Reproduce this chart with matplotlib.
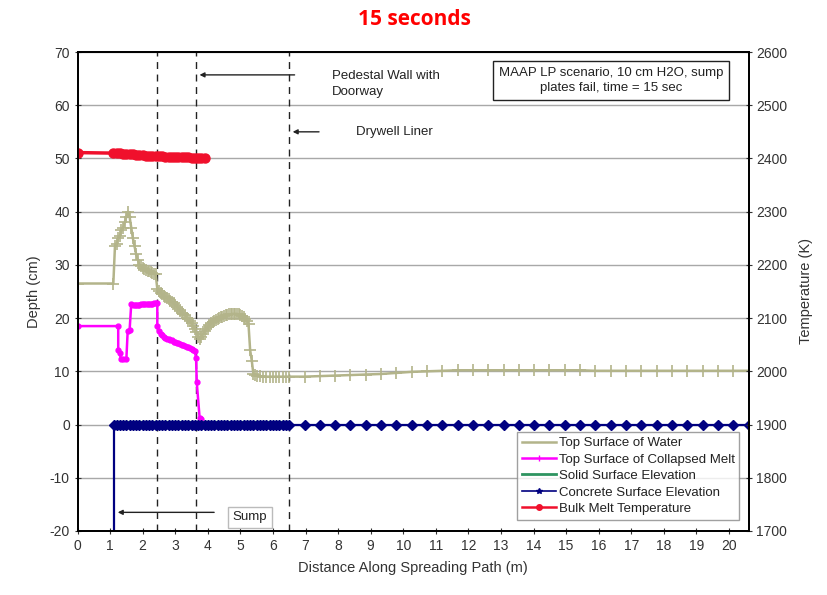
import matplotlib.pyplot as plt
from matplotlib.lines import Line2D

plt.rcParams['font.family'] = ['Liberation Sans', 'DejaVu Sans']
plt.rcParams['axes.unicode_minus'] = False

# spreading path positions (m) and water surface depth (cm)
water_x = [0.0, 1.1, 1.15, 1.2, 1.25, 1.3, 1.35, 1.4, 1.45, 1.5, 1.55, 1.6, 1.65,
           1.7, 1.75, 1.8, 1.85, 1.9, 1.95, 2.0, 2.05, 2.1, 2.15, 2.2, 2.25, 2.3,
           2.35, 2.4, 2.45, 2.5, 2.55, 2.6, 2.65, 2.7, 2.75, 2.8, 2.85, 2.9, 2.95,
           3.0, 3.05, 3.1, 3.15, 3.2, 3.25, 3.3, 3.35, 3.4, 3.45, 3.5, 3.55, 3.6,
           3.65, 3.7, 3.75, 3.8, 3.85, 3.9, 3.95, 4.0, 4.05, 4.1, 4.15, 4.2, 4.25,
           4.3, 4.35, 4.4, 4.45, 4.5, 4.55, 4.6, 4.65, 4.7, 4.75, 4.8, 4.85, 4.9,
           4.95, 5.0, 5.05, 5.1, 5.15, 5.2, 5.25, 5.3, 5.35, 5.4, 5.45, 5.5, 5.6,
           5.7, 5.8, 5.9, 6.0, 6.1, 6.2, 6.3, 6.4, 6.5, 6.97, 7.44, 7.91, 8.38,
           8.85, 9.32, 9.79, 10.26, 10.73, 11.2, 11.67, 12.14, 12.61, 13.08, 13.55,
           14.02, 14.49, 14.96, 15.43, 15.9, 16.37, 16.84, 17.31, 17.78, 18.25,
           18.72, 19.19, 19.66, 20.13, 20.6]
water_depth = [26.5, 26.5, 33.5, 34.0, 35.0, 35.5, 36.5, 37.0, 38.0, 39.0, 40.0, 39.0, 37.0,
               35.0, 33.5, 32.0, 31.0, 30.0, 29.8, 29.5, 29.3, 29.0, 28.9, 28.8, 28.6, 28.5,
               28.3, 28.2, 25.5, 25.0, 24.8, 24.5, 24.2, 24.0, 23.8, 23.5, 23.2, 23.0, 22.8,
               22.5, 22.1, 21.8, 21.4, 21.0, 20.8, 20.5, 20.1, 19.8, 19.4, 19.0, 18.5, 18.0,
               17.3, 16.5, 16.0, 16.5, 17.0, 17.5, 17.9, 18.3, 18.7, 19.0, 19.3, 19.5, 19.7,
               19.8, 20.0, 20.2, 20.3, 20.4, 20.5, 20.6, 20.7, 20.7, 20.8, 20.8, 20.8, 20.8,
               20.7, 20.6, 20.4, 20.2, 19.9, 19.5, 18.8, 14.0, 12.0, 9.5, 9.3, 9.2, 9.1,
               9.0, 9.0, 9.0, 9.0, 9.0, 9.0, 9.0, 9.0, 9.0, 9.0, 9.1, 9.2, 9.3,
               9.4, 9.5, 9.7, 9.9, 10.0, 10.1, 10.2, 10.2, 10.2, 10.2, 10.2,
               10.2, 10.2, 10.2, 10.2, 10.1, 10.1, 10.1, 10.1, 10.1, 10.1,
               10.1, 10.1, 10.1, 10.1, 10.1]

# collapsed melt top surface (cm)
melt_x = [0.0, 1.25, 1.25, 1.3, 1.33, 1.4, 1.5, 1.54, 1.6, 1.65, 1.7, 1.75, 1.8,
          1.85, 1.9, 1.95, 2.0, 2.05, 2.1, 2.15, 2.2, 2.25, 2.3, 2.35, 2.4, 2.45,
          2.45, 2.5, 2.55, 2.6, 2.65, 2.7, 2.75, 2.8, 2.85, 2.9, 2.95, 3.0, 3.05,
          3.1, 3.15, 3.2, 3.25, 3.3, 3.35, 3.4, 3.45, 3.5, 3.55, 3.6, 3.64, 3.66,
          3.75, 3.8]
melt_depth = [18.5, 18.5, 14.0, 13.5, 12.3, 12.3, 12.3, 17.5, 17.8, 22.7, 22.5, 22.4, 22.5,
              22.5, 22.5, 22.6, 22.6, 22.6, 22.6, 22.7, 22.7, 22.7, 22.7, 22.8, 22.8, 22.8,
              18.5, 17.5, 17.1, 16.8, 16.5, 16.3, 16.1, 16.0, 15.9, 15.8, 15.6, 15.5, 15.4,
              15.3, 15.1, 15.0, 14.9, 14.8, 14.6, 14.5, 14.3, 14.2, 14.0, 13.8, 12.5, 8.0,
              1.2, 1.0]

# concrete / solid surface elevation (cm)
concrete_x = [1.12, 1.12, 1.2, 1.3, 1.4, 1.5, 1.6, 1.7, 1.8, 1.9, 2.0, 2.1, 2.2, 2.3,
              2.4, 2.5, 2.6, 2.7, 2.8, 2.9, 3.0, 3.1, 3.2, 3.3, 3.4, 3.5, 3.6, 3.7,
              3.8, 3.9, 4.0, 4.1, 4.2, 4.3, 4.4, 4.5, 4.6, 4.7, 4.8, 4.9, 5.0, 5.1,
              5.2, 5.3, 5.4, 5.5, 5.6, 5.7, 5.8, 5.9, 6.0, 6.1, 6.2, 6.3, 6.4, 6.5,
              6.97, 7.44, 7.91, 8.38, 8.85, 9.32, 9.79, 10.26, 10.73, 11.2, 11.67,
              12.14, 12.61, 13.08, 13.55, 14.02, 14.49, 14.96, 15.43, 15.9, 16.37,
              16.84, 17.31, 17.78, 18.25, 18.72, 19.19, 19.66, 20.13, 20.6]
concrete_depth = [-20.0] + [0.0] * (len(concrete_x) - 1)
solid_x = [1.12, 6.5]
solid_depth = [0.0, 0.0]

# bulk melt temperature (K)
temp_x = [0.0, 1.1, 1.2, 1.3, 1.4, 1.5, 1.6, 1.7, 1.8, 1.9, 2.0, 2.1, 2.2, 2.3, 2.4,
          2.5, 2.6, 2.7, 2.8, 2.9, 3.0, 3.1, 3.2, 3.3, 3.4, 3.5, 3.6, 3.7, 3.8, 3.9]
temp_K = [2411, 2410, 2410, 2409.5, 2409, 2408.5, 2408, 2407.5, 2407, 2406.5, 2406,
          2405.5, 2405, 2404.8, 2404.5, 2404, 2403.8, 2403.5, 2403.2, 2403, 2402.8,
          2402.5, 2402.3, 2402, 2401.8, 2401.6, 2401.4, 2401.2, 2401, 2401]

walls = [2.45, 3.64, 6.5]

c_water = '#b3b48a'
c_melt = '#ff00ff'
c_solid = '#2e9460'
c_conc = '#000080'
c_temp = '#f0102c'

fig = plt.figure(figsize=(8.28, 5.95), dpi=100)
ax = fig.add_axes([0.0936, 0.1076, 0.8104, 0.805])
ax2 = ax.twinx()

ax.set_xlim(0, 20.6)
ax.set_ylim(-20, 70)
ax2.set_ylim(1700, 2600)
ax.set_yticks(range(-20, 71, 10))
ax2.set_yticks(range(1700, 2601, 100))
ax.set_xticks(range(0, 21))
ax.yaxis.grid(True, color='#a8a8a8', lw=1)
ax.set_axisbelow(True)

for w in walls:
    ax.axvline(w, color='#222222', ls=(0, (5, 4)), lw=1)

ax.plot(water_x, water_depth, color=c_water, lw=1.8, marker='+', ms=8, mew=1.2)
ax.plot(melt_x, melt_depth, color=c_melt, lw=1.8, marker='o', ms=3.5)
ax.plot(solid_x, solid_depth, color=c_solid, lw=6, solid_capstyle='butt')
ax.plot(concrete_x, concrete_depth, color=c_conc, lw=1.6, marker='D', ms=5,
        markevery=list(range(1, len(concrete_x))))
ax2.plot(temp_x, temp_K, color=c_temp, lw=2.5, marker='o', ms=6.5)

for a in (ax, ax2):
    a.tick_params(labelsize=10, length=4, direction='inout', colors='#333333')
    for s in a.spines.values():
        s.set_color('black')
        s.set_linewidth(1.3)

ax.set_xlabel('Distance Along Spreading Path (m)', fontsize=10.5, color='#333333', labelpad=6)
ax.set_ylabel('Depth (cm)', fontsize=10.5, color='#333333', labelpad=6)
ax2.set_ylabel('Temperature (K)', fontsize=10.5, color='#333333', labelpad=8)

fig.suptitle('15 seconds', x=0.5, y=0.985, color='red', fontsize=15,
             fontweight='bold', family=['Open Sans', 'DejaVu Sans'])

ax.text(0.795, 0.941, 'MAAP LP scenario, 10 cm H2O, sump\nplates fail, time = 15 sec',
        transform=ax.transAxes, ha='center', va='center', fontsize=9.5,
        color='#222222', linespacing=1.3,
        bbox=dict(boxstyle='square,pad=0.45', fc='white', ec='#222222', lw=1))

arrow = dict(arrowstyle='-|>', color='#222222', lw=1, mutation_scale=7)
ax.annotate('', xy=(3.66, 65.7), xytext=(6.75, 65.7), arrowprops=arrow)
ax.text(7.8, 64.0, 'Pedestal Wall with\nDoorway', fontsize=9.5, color='#222222',
        ha='left', va='center', linespacing=1.45)
ax.annotate('', xy=(6.52, 55.0), xytext=(7.5, 55.0), arrowprops=arrow)
ax.text(8.55, 55.0, 'Drywell Liner', fontsize=9.5, color='#222222', ha='left', va='center')
ax.annotate('', xy=(1.15, -16.5), xytext=(4.28, -16.5), arrowprops=arrow)
ax.text(5.3, -17.4, 'Sump', fontsize=9.5, color='#222222', ha='center', va='center',
        bbox=dict(boxstyle='square,pad=0.35', fc='white', ec='#bbbbbb', lw=1))

handles = [
    Line2D([], [], color=c_water, lw=1.8),
    Line2D([], [], color=c_melt, lw=1.8, marker='|', ms=5),
    Line2D([], [], color=c_solid, lw=2),
    Line2D([], [], color=c_conc, lw=1.2, marker='*', ms=4),
    Line2D([], [], color=c_temp, lw=1.8, marker='o', ms=4),
]
labels = ['Top Surface of Water', 'Top Surface of Collapsed Melt',
          'Solid Surface Elevation', 'Concrete Surface Elevation',
          'Bulk Melt Temperature']
leg = ax2.legend(handles, labels, loc='lower right', bbox_to_anchor=(0.996, 0.01),
                 fontsize=9.5, frameon=True, fancybox=False, handlelength=2.6,
                 handletextpad=0.2, labelspacing=0.32, borderpad=0.35,
                 labelcolor='#222222')
leg.get_frame().set_edgecolor('#888888')
leg.get_frame().set_linewidth(1)

fig.savefig('out.png', dpi=100)
